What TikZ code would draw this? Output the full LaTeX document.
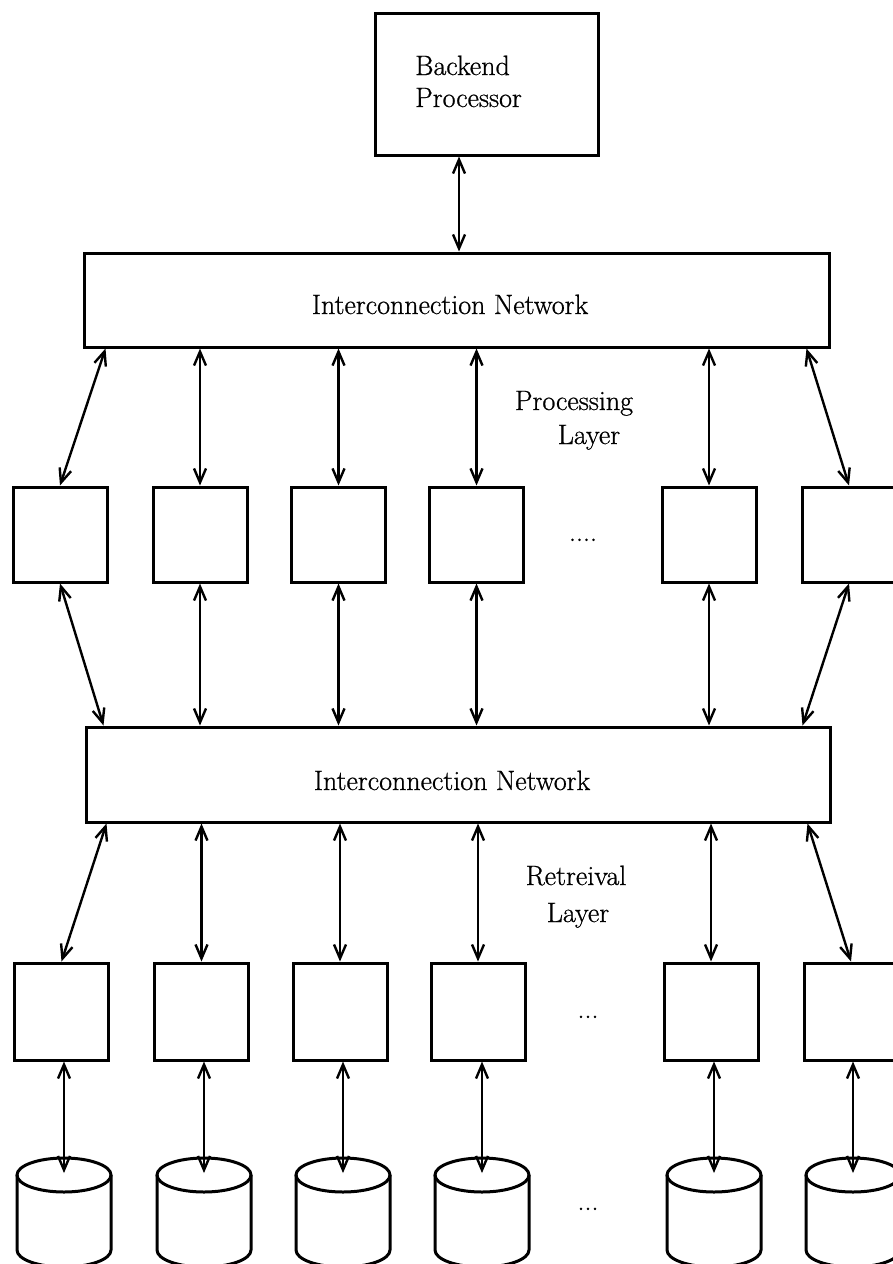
\documentclass[tikz,border=0pt]{standalone}
\usepackage{fontspec}
\newfontfamily\scanfont{Latin Modern Roman}[FakeBold=0.7]
\usetikzlibrary{arrows.meta,calc}
\begin{document}
\begin{tikzpicture}[x=1pt,y=-1pt,
  box/.style={draw, line width=3pt, minimum width=94pt, minimum height=95pt, inner sep=0pt},
  netbox/.style={draw, line width=3pt, minimum width=745pt, minimum height=94pt, inner sep=0pt},
  dbl/.style={{Straight Barb[length=14pt,width=12pt]}-{Straight Barb[length=14pt,width=12pt]}, line width=2.4pt},
  lbl/.style={font=\scanfont\fontsize{28}{34}\selectfont, inner sep=0pt, anchor=base},
  disk/.pic={
    \draw[line width=3pt] (0,0) ellipse [x radius=47, y radius=17];
    \draw[line width=3pt] (-47,0) -- (-47,75) arc[start angle=180, end angle=0, x radius=47, y radius=17] -- (47,0);
  }
]
\useasboundingbox (0,0) rectangle (893,1264);
\clip (0,0) rectangle (893,1264);
\fill[white] (0,0) rectangle (893,1264);

% backend
\node[box, minimum width=223pt, minimum height=142pt] (backend) at (486.5,84) {};
\node[lbl, anchor=base west] (bt1) at (415,75) {Backend};
\node[lbl, anchor=base west] (bt2) at (415,107) {Processor};

% networks
\node[netbox] (net1) at (456.5,300) {};
\node[lbl] (net1t) at (450,314) {Interconnection Network};
\node[netbox, minimum width=744pt, minimum height=95pt] (net2) at (458,774.5) {};
\node[lbl] (net2t) at (452,790) {Interconnection Network};

% processing boxes
\foreach \i/\x in {1/60,2/200,3/338.5,4/476.5,5/709,6/849}
  \node[box] (p\i) at (\x,534.5) {};
% retrieval boxes
\foreach \i/\x in {1/61.5,2/201.5,3/340,4/478,5/711,6/851}
  \node[box, minimum height=97pt] (r\i) at (\x,1011.5) {};
% disks
\foreach \i/\x in {1/64,2/204,3/343,4/482,5/714,6/853}{
  \pic at (\x,1175) {disk};
  \coordinate (d\i) at (\x,1173);
}

% labels
\node[lbl] (pl1) at (574,410) {Processing};
\node[lbl] (pl2) at (589,444) {Layer};
\node[lbl] (rl1) at (576,885) {Retreival};
\node[lbl] (rl2) at (578,922) {Layer};
\node[lbl] (dots1) at (583,541) {....};
\node[lbl] (dots2) at (588,1018) {...};
\node[lbl] (dots3) at (588,1210) {...};

% backend link
\coordinate (bk) at ($(backend.south)+(-27.5,0)$);
\draw[dbl] (bk) -- (bk |- net1.north);

% net1 to processing
\draw[dbl] ($(net1.south west)+(23,0)$) -- (p1.north);
\foreach \i in {2,3,4,5}
  \draw[dbl] (p\i.north |- net1.south) -- (p\i.north);
\draw[dbl] ($(net1.south east)+(-24,0)$) -- (p6.north);

% processing to net2
\draw[dbl] (p1.south) -- ($(net2.north west)+(19,0)$);
\foreach \i in {2,3,4,5}
  \draw[dbl] (p\i.south) -- (p\i.south |- net2.north);
\draw[dbl] (p6.south) -- ($(net2.north east)+(-29,0)$);

% net2 to retrieval
\draw[dbl] ($(net2.south west)+(22,0)$) -- (r1.north);
\foreach \i in {2,3,4,5}
  \draw[dbl] (r\i.north |- net2.south) -- (r\i.north);
\draw[dbl] ($(net2.south east)+(-24,0)$) -- (r6.north);

% retrieval to disks
\foreach \i in {1,...,6}
  \draw[dbl] (d\i |- r\i.south) -- (d\i);
\end{tikzpicture}
\end{document}
